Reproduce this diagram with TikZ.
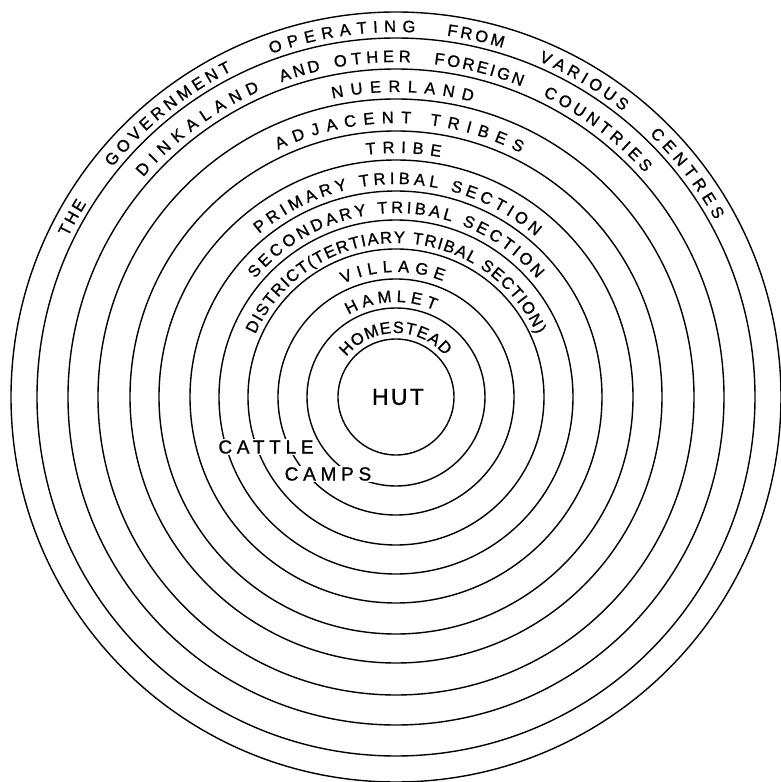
\documentclass[tikz,border=0pt]{standalone}
\usepackage{fontspec}
\setsansfont{Liberation Sans}
\usetikzlibrary{decorations.text}
\newcommand{\lab}{\sffamily\fontsize{16.5}{16.5}\selectfont\addfontfeature{FakeBold=1}}
\newcommand{\hutfont}{\sffamily\fontsize{23}{23}\selectfont\addfontfeature{LetterSpace=10,FakeBold=1}}
\newcommand{\campfont}{\sffamily\fontsize{19}{19}\selectfont\addfontfeature{LetterSpace=25,FakeBold=1}}

\begin{document}
\begin{tikzpicture}[
  x=1pt, y=1pt,
  ring/.style={line width=1.4pt},
  arclab/.style={decorate, decoration={text along path, text align={fit to path}, text={|\lab|#1}}},
  flat/.style={font=\campfont, fill=white, inner sep=1.5pt}
]
\useasboundingbox (-396,-385) rectangle (384,397);
\foreach \r in {58,89,118,148,177,206,237,266,298,328,359,385}
  \draw[ring] (0,0) circle[radius=\r];
\node[font=\hutfont] (hut) at (2,0) {HUT};
\path[arclab={HOMESTEAD}] (141:64) arc[start angle=141, end angle=40, radius=64];
\path[arclab={HAMLET}] (120:95) arc[start angle=120, end angle=66, radius=95];
\path[arclab={VILLAGE}] (115:125) arc[start angle=115, end angle=68, radius=125];
\path[arclab={DISTRICT(TERTIARY TRIBAL SECTION)}] (156:154) arc[start angle=156, end angle=24, radius=154];
\path[arclab={SECONDARY TRIBAL SECTION}] (140:184) arc[start angle=140, end angle=40, radius=184];
\path[arclab={PRIMARY TRIBAL SECTION}] (130:213) arc[start angle=130, end angle=49, radius=213];
\path[arclab={TRIBE}] (97:244) arc[start angle=97, end angle=79.5, radius=244];
\path[arclab={ADJACENT TRIBES}] (115.5:274) arc[start angle=115.5, end angle=63, radius=274];
\path[arclab={NUERLAND}] (102:305) arc[start angle=102, end angle=75.5, radius=305];
\path[arclab={DINKALAND}] (139:335) arc[start angle=139, end angle=114, radius=335];
\path[arclab={AND}] (110:335) arc[start angle=110, end angle=103, radius=335];
\path[arclab={OTHER}] (100.5:335) arc[start angle=100.5, end angle=87.5, radius=335];
\path[arclab={FOREIGN}] (83.5:335) arc[start angle=83.5, end angle=68, radius=335];
\path[arclab={COUNTRIES}] (64:335) arc[start angle=64, end angle=42, radius=335];
\path[arclab={THE}] (154:365) arc[start angle=154, end angle=148, radius=365];
\path[arclab={GOVERNMENT}] (141:365) arc[start angle=141, end angle=116.7, radius=365];
\path[arclab={OPERATING}] (110:365) arc[start angle=110, end angle=87, radius=365];
\path[arclab={FROM}] (82:365) arc[start angle=82, end angle=73, radius=365];
\path[arclab={VARIOUS}] (67:365) arc[start angle=67, end angle=51.5, radius=365];
\path[arclab={CENTRES}] (46:365) arc[start angle=46, end angle=29, radius=365];
\node[flat] (cattle) at (-130,-50) {CATTLE};
\node[flat] (camps) at (-68,-77) {CAMPS};
\end{tikzpicture}
\end{document}
